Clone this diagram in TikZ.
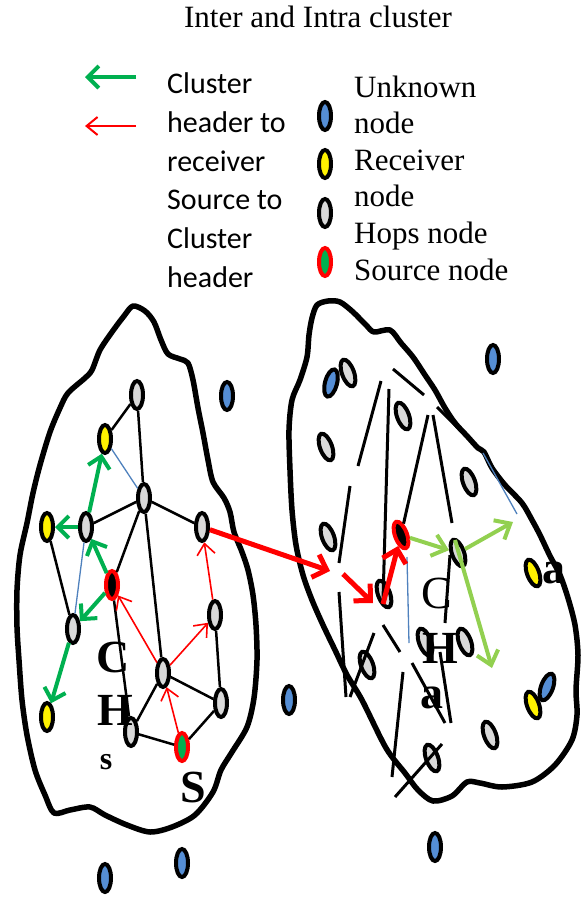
\documentclass[tikz,border=0pt]{standalone}
\usepackage{fontspec}
\setmainfont{Liberation Serif}
\newfontfamily\calfont{Carlito}
\usetikzlibrary{shapes.geometric,arrows.meta}
\definecolor{ublue}{HTML}{558ED5}
\definecolor{hgray}{HTML}{D9D9D9}
\definecolor{dgreen}{HTML}{00B050}
\definecolor{lgreen}{HTML}{92D050}
\definecolor{lineblue}{HTML}{4F81BD}
\begin{document}
\begin{tikzpicture}[x=1pt,y=-1pt,
 ov/.style={ellipse,draw=black,line width=4pt,minimum width=12pt,minimum height=28pt,inner sep=0pt},
 unk/.style={ov,fill=ublue},
 rcv/.style={ov,fill=yellow},
 hop/.style={ov,fill=hgray},
 src/.style={ov,draw=red,fill=dgreen},
 chd/.style={ov,draw=red,fill=black},
 edge/.style={line width=2.5pt},
 seg/.style={line width=3pt},
 bl/.style={line width=1.3pt,draw=lineblue},
 garr/.style={line width=4pt,draw=dgreen,-{Straight Barb[length=11pt,width=22pt]}},
 rarr/.style={line width=1.6pt,draw=red,-{Straight Barb[length=11pt,width=18pt]}},
 Rarr/.style={line width=5pt,draw=red,-{Straight Barb[length=12pt,width=24pt]}},
 larr/.style={line width=4pt,draw=lgreen,-{Straight Barb[length=13pt,width=22pt]}},
 blob/.style={line width=5.5pt,line join=round},
 sans/.style={font=\calfont\fontsize{30}{30}\selectfont,anchor=base west,inner sep=0pt},
 serif/.style={font=\fontsize{31}{31}\selectfont,anchor=base west,inner sep=0pt},
 big/.style={font=\fontsize{46}{46}\selectfont\bfseries,inner sep=0pt},
 bigr/.style={font=\fontsize{46}{46}\selectfont,inner sep=0pt},
 small/.style={font=\fontsize{46}{46}\selectfont\bfseries,inner sep=0pt}
]
\useasboundingbox (0,0) rectangle (581,897);

% title
\node[font=\fontsize{31}{31}\selectfont,anchor=base,inner sep=0pt] (title) at (318,27) {Inter and Intra cluster};

% legend arrows
\coordinate (ga1) at (136,77); \coordinate (ga2) at (85,77);
\coordinate (ra1) at (136,126); \coordinate (ra2) at (85,126);
\draw[garr] (ga1) -- (ga2);
\draw[rarr,line width=2pt] (ra1) -- (ra2);

% legend sans text
\node[sans] (t1) at (167,93) {Cluster};
\node[sans] (t2) at (167,132) {header to};
\node[sans] (t3) at (167,171) {receiver};
\node[sans] (t4) at (167,209) {Source to};
\node[sans] (t5) at (167,248) {Cluster};
\node[sans] (t6) at (167,287) {header};

% legend ovals
\node[unk] (lgu) at (325,116) {};
\node[rcv] (lgr) at (325,164) {};
\node[hop] (lgh) at (325,213) {};
\node[src] (lgs) at (325,262) {};
\node[serif] (s1) at (354,97) {Unknown};
\node[serif] (s2) at (354,133) {node};
\node[serif] (s3) at (354,170) {Receiver};
\node[serif] (s4) at (354,206) {node};
\node[serif] (s5) at (354,243) {Hops node};
\node[serif] (s6) at (354,280) {Source node};

% cluster outlines
\draw[blob] plot[smooth cycle,tension=0.5] coordinates {
(133,306) (145,311) (154,322) (161,340) (168,354) (180,359) (188,363) (193,380) (198,408) (203,433) (208,460) (213,482) (224,498) (230,512) (234,532) (242,552) (248,570) (253,595) (256,625) (257,660) (254,698) (247,727) (232,752) (221,770) (213,792) (195,815) (172,827) (150,832) (127,825) (105,815) (90,807) (70,810) (54,813) (45,795) (35,770) (27,735) (22,700) (19,660) (17,627) (17,590) (20,555) (27,523) (33,493) (40,465) (50,432) (60,408) (68,393) (85,378) (92,370) (100,350) (112,332) (124,316)};
\draw[blob] plot[smooth cycle,tension=0.5] coordinates {
(317,305) (328,301) (340,302) (353,312) (366,325) (374,332) (390,330) (401,343) (413,357) (425,375) (435,390) (445,408) (455,423) (467,436) (478,448) (484,452) (492,468) (505,485) (522,503) (532,520) (540,535) (550,556) (560,575) (568,598) (575,625) (578,655) (576,690) (577,715) (572,740) (555,765) (532,782) (502,787) (480,783) (467,782) (452,796) (433,801) (418,790) (405,773) (386,748) (362,700) (347,675) (335,650) (323,625) (312,600) (303,575) (296,545) (292,510) (290,470) (289,430) (292,400) (300,380) (307,357) (309,335) (312,318)};

% outside unknown nodes
\node[unk] (b1) at (227,396) {};
\node[unk] (b2) at (289,700) {};
\node[unk] (b3) at (105,878) {};
\node[unk] (b4) at (182,863) {};
\node[unk] (b5) at (493,359) {};
\node[unk] (b6) at (435,847) {};

% left cluster nodes
\node[hop] (lT) at (137,395) {};
\node[rcv] (lYt) at (105,439) {};
\node[hop] (lC) at (144,498) {};
\node[hop] (lM) at (86,527) {};
\node[rcv] (lYl) at (47,527) {};
\node[hop] (lR) at (202,527) {};
\node[chd] (lCH) at (112,585) {};
\node[hop] (lL) at (73,629) {};
\node[hop] (lRu) at (215,615) {};
\node[hop] (lCl) at (163,673) {};
\node[hop] (lRl) at (221,703) {};
\node[rcv] (lYb) at (47,717) {};
\node[hop] (lB) at (131,732) {};
\node[src] (lS) at (182,747) {};

% left cluster edges
\draw[edge] (lT) -- (lYt);
\draw[edge] (lT) -- (lC);
\draw[edge] (lC) -- (lM);
\draw[edge] (lC) -- (lR);
\draw[edge] (lC) -- (lCH);
\draw[edge] (lC) -- (lCl);
\draw[edge] (lYl) -- (lL);
\draw[edge] (lCH) -- (lB);
\draw[edge] (lB) -- (lCl);
\draw[edge] (lB) -- (lS);
\draw[edge] (lCl) -- (lRl);
\draw[edge] (lRu) -- (lRl);
\draw[edge] (lS) -- (lRl);
\draw[bl] (lYt) -- (lC);
\draw[bl] (lM) -- (lL);
\draw[garr] (lM) -- (lYt);
\draw[garr] (lM) -- (lYl);
\draw[garr] (lCH) -- (lM);
\draw[garr] (lCH) -- (lL);
\draw[garr] (lL) -- (lYb);
\draw[rarr] (lS) -- (lCl);
\draw[rarr] (lCl) -- (lCH);
\draw[rarr] (lCl) -- (lRu);
\draw[rarr] (lRu) -- (lR);

% left labels
\node[big] (lc) at (113,657) {C};
\node[big] (lh) at (115,710) {H};
\node[font=\fontsize{32}{32}\selectfont\bfseries,inner sep=0pt] (ls) at (106,762) {s};
\node[big] (lsS) at (193,787) {S};

% right cluster nodes
\node[unk,rotate=-15] (rB1) at (331,383) {};
\node[hop,rotate=20] (rG1) at (348,373) {};
\node[hop,rotate=20] (rG2) at (403,416) {};
\node[hop,rotate=20] (rG3) at (326,447) {};
\node[hop,rotate=20] (rG4) at (469,482) {};
\node[hop,rotate=20] (rG5) at (328,537) {};
\node[chd,rotate=20] (rR) at (401,535) {};
\node[hop,rotate=20] (rG6) at (458,553) {};
\node[rcv,rotate=20] (rY1) at (533,573) {};
\node[hop,rotate=20] (rG7) at (384,594) {};
\node[hop,rotate=20] (rG8) at (425,642) {};
\node[hop,rotate=20] (rG9) at (465,642) {};
\node[hop,rotate=20] (rG10) at (367,665) {};
\node[unk,rotate=-20] (rB2) at (547,687) {};
\node[rcv,rotate=20] (rY2) at (533,705) {};
\node[hop,rotate=20] (rG11) at (490,735) {};
\node[hop,rotate=20] (rG12) at (432,758) {};

% right cluster segments
\draw[seg] (393,369) -- (424,395);
\draw[seg] (381,381) -- (358,466);
\draw[seg] (350,486) -- (339,563);
\draw[seg] (389,389) -- (383,600);
\draw[seg] (428,415) -- (rR);
\draw[seg] (433,415) -- (452,523);
\draw[seg] (437,407) -- (472,442);
\draw[seg] (339,592) -- (346,697);
\draw[seg] (450,555) -- (445,623);
\draw[seg] (374,633) -- (350,697);
\draw[seg] (383,625) -- (400,652);
\draw[seg] (412,663) -- (445,723);
\draw[seg] (440,652) -- (451,723);
\draw[seg] (403,672) -- (392,777);
\draw[seg] (442,744) -- (395,797);
\draw[bl] (483,453) -- (517,514);
\draw[bl] (407,557) -- (409,643);

% right labels
\node[bigr] (rc) at (437,593) {C};
\node[big] (rh) at (440,648) {H};
\node[small] (ra) at (432,698) {a};
\node[small] (ra2) at (554,573) {a};

% inter cluster red arrows
\coordinate (ri1) at (330,571);
\coordinate (ri2) at (343,574);
\coordinate (ri3) at (373,603);
\coordinate (ri4) at (383,604);
\draw[Rarr] (lR) -- (ri1);
\draw[Rarr] (ri2) -- (ri3);
\draw[Rarr] (ri4) -- (rR);

% light green arrows
\coordinate (lg1) at (513,522);
\coordinate (lg2) at (455,540);
\coordinate (lg3) at (492,668);
\draw[larr] (rR) -- (rG6);
\draw[larr] (rG6) -- (lg1);
\draw[larr] (lg2) -- (lg3);
\end{tikzpicture}
\end{document}
